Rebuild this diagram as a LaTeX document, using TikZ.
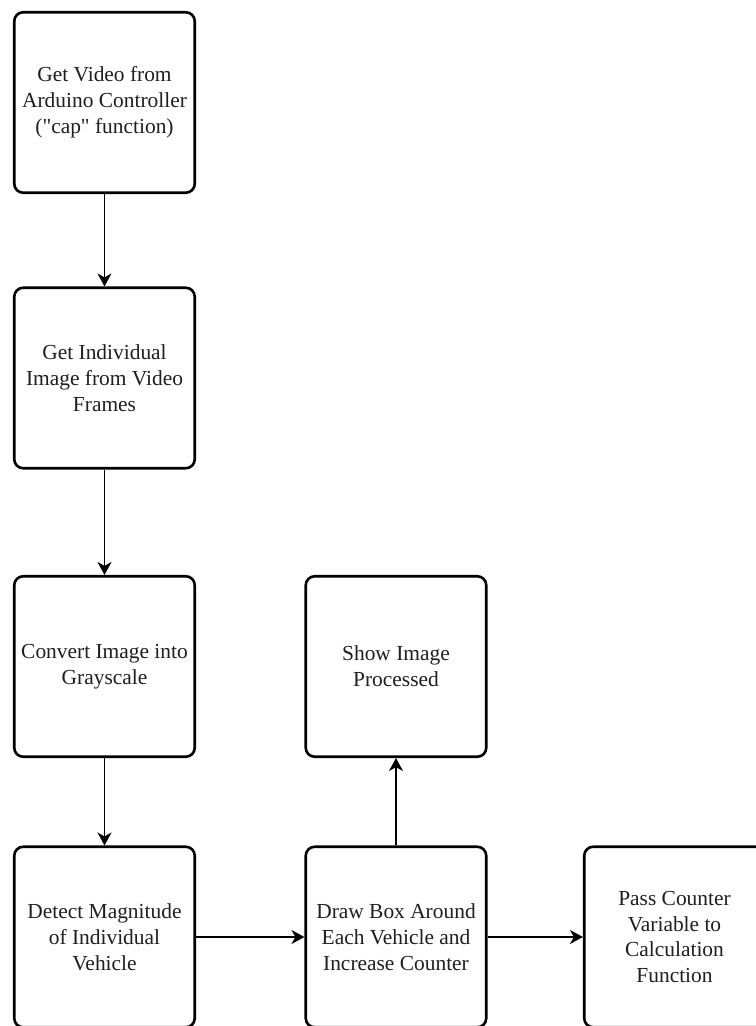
\documentclass[tikz,border=0pt]{standalone}
\usepackage{fontspec}
\setmainfont{Liberation Serif}
\usetikzlibrary{arrows.meta}

\begin{document}
\begin{tikzpicture}[x=1bp,y=-1bp]
    \tikzstyle{process} = [draw,line width=2.6bp,rounded corners=9bp,fill=white,minimum width=180.5bp,minimum height=180.5bp,inner sep=0pt,align=center,text=black!88,font=\fontsize{21.5}{26}\selectfont]
    \tikzstyle{flow} = [line width=1.6bp,-{Stealth[length=13bp,width=14bp,inset=4bp]}]
    \useasboundingbox (0,0) rectangle (756,1026);

    \node[process] at (104.5,102.5) (video) {Get Video from\\Arduino Controller\\(\textquotedbl cap\textquotedbl{} function)};
    \node[process] at (104.5,378) (frames) {Get Individual\\Image from Video\\Frames};
    \node[process] at (104.5,666.5) (gray) {Convert Image into\\Grayscale};
    \node[process] at (104.5,937) (detect) {Detect Magnitude\\of Individual\\Vehicle};
    \node[process] at (396,666.5) (show) {Show Image\\Processed};
    \node[process] at (396,937) (count) {Draw Box Around\\Each Vehicle and\\Increase Counter};
    \node[process] at (674.5,937) (pass) {Pass Counter\\Variable to\\Calculation\\Function};

    \draw[flow] (video) -- (frames);
    \draw[flow] (frames) -- (gray);
    \draw[flow] (gray) -- (detect);
    \draw[flow] (detect) -- (count);
    \draw[flow] (count) -- (show);
    \draw[flow] (count) -- (pass);

\end{tikzpicture}
\end{document}
